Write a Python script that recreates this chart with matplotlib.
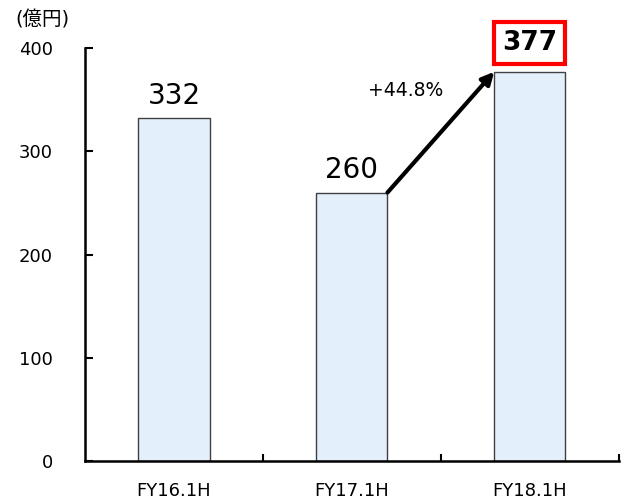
import numpy as np
import matplotlib.pyplot as plt

plt.rcParams['font.family'] = ['DejaVu Sans', 'Noto Sans CJK JP']

# データ
categories = ['FY16.1H', 'FY17.1H', 'FY18.1H']
values = [332, 260, 377]
growth_label = '+44.8%'

fig = plt.figure(figsize=(6.25, 5.03), dpi=100)
ax = fig.add_axes([0.136, 0.0835, 0.854, 0.821])

x = np.arange(len(categories))
ax.bar(x, values, width=0.4, color='#e4effc', edgecolor='#404040', linewidth=1.0)

ax.set_xlim(-0.5, len(categories) - 0.5)
ax.set_ylim(0, 400)
ax.set_yticks([0, 100, 200, 300, 400])
ax.tick_params(axis='y', direction='in', length=6, width=1.5, labelsize=13, pad=23)
ax.set_xticks(x)
ax.set_xticklabels(categories)
ax.tick_params(axis='x', which='major', length=0, labelsize=13, pad=15)
ax.set_xticks(list(x[:-1] + 0.5) + [len(categories) - 0.5], minor=True)
ax.tick_params(axis='x', which='minor', direction='in', length=5, width=1.5)

for s in ['top', 'right']:
    ax.spines[s].set_visible(False)
for s in ['left', 'bottom']:
    ax.spines[s].set_linewidth(1.8)

# 値ラベル
for i, v in enumerate(values[:-1]):
    ax.text(i, v + 8, str(v), ha='center', va='bottom', fontsize=20)
ax.text(2, values[2] + 28, str(values[2]), ha='center', va='center', fontsize=19,
        fontweight='bold',
        bbox=dict(boxstyle='square,pad=0.3', facecolor='white', edgecolor='#ff0000', linewidth=3))

# 矢印
ax.annotate('', xy=(2 - 0.2, values[2]), xytext=(1 + 0.2, values[1]),
            arrowprops=dict(arrowstyle='-|>', color='black', lw=3, mutation_scale=18,
                            shrinkA=0, shrinkB=0))
ax.text(1.3, 359, growth_label, ha='center', va='center', fontsize=13.5)

fig.text(0.024, 0.96, '(億円)', ha='left', va='center', fontsize=14)

fig.savefig('out.png', dpi=100)
